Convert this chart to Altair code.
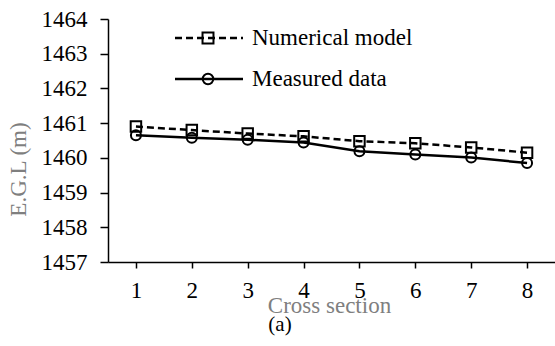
import altair as alt
import pandas as pd

# Energy grade line at each cross section
sections = [1, 2, 3, 4, 5, 6, 7, 8]
numerical = [1460.90, 1460.80, 1460.70, 1460.62, 1460.48, 1460.42, 1460.30, 1460.15]
measured = [1460.65, 1460.58, 1460.52, 1460.44, 1460.19, 1460.10, 1460.01, 1459.85]
y_ticks = [1457, 1458, 1459, 1460, 1461, 1462, 1463, 1464]

FONT = "Liberation Serif"
FS = 23
W, H = 447, 243

num_df = pd.DataFrame({"cs": sections, "egl": numerical})
mea_df = pd.DataFrame({"cs": sections, "egl": measured})
one = pd.DataFrame({"k": [0]})

x_enc = alt.X(
    "cs:O",
    scale=alt.Scale(type="point", padding=0.5),
    axis=alt.Axis(
        title="Cross section",
        labelAngle=0,
        labelFont=FONT, labelFontSize=FS,
        labelPadding=11, labelBaseline="top",
        tickSize=6,
        titleX=221, titleY=50,
        titleAlign="center", titleBaseline="alphabetic",
    ),
)
y_enc = alt.Y(
    "egl:Q",
    scale=alt.Scale(domain=[1457, 1464], nice=False, zero=False),
    axis=alt.Axis(
        title="E.G.L (m)",
        values=y_ticks,
        format="d",
        labelFont=FONT, labelFontSize=FS,
        labelPadding=13,
        tickSize=8,
        titleX=-90, titleY=150,
        titleAngle=270, titleAlign="center", titleBaseline="middle",
    ),
)

mea_line = alt.Chart(mea_df).mark_line(color="black", strokeWidth=2.5).encode(x=x_enc, y=y_enc)
num_line = alt.Chart(num_df).mark_line(
    color="black", strokeWidth=2.5, strokeDash=[7, 4]
).encode(x=x_enc, y=y_enc)
mea_pts = alt.Chart(mea_df).mark_point(
    shape="circle", size=100, filled=False, color="black", strokeWidth=2, opacity=1
).encode(x=x_enc, y=y_enc)
num_pts = alt.Chart(num_df).mark_point(
    shape="square", size=110, filled=False, color="black", strokeWidth=2, opacity=1
).encode(x=x_enc, y=y_enc)

# Legend drawn in plot pixel space
leg_dash = alt.Chart(one).mark_rule(color="black", strokeWidth=2.5, strokeDash=[7, 4]).encode(
    x=alt.value(67), x2=alt.value(135), y=alt.value(19)
)
leg_sq = alt.Chart(one).mark_point(
    shape="square", size=120, filled=False, color="black", strokeWidth=2, opacity=1
).encode(x=alt.value(100), y=alt.value(19))
leg_num_txt = alt.Chart(one).mark_text(
    text="Numerical model", font=FONT, fontSize=FS, align="left", baseline="alphabetic", color="black"
).encode(x=alt.value(144), y=alt.value(25.5))

leg_solid = alt.Chart(one).mark_rule(color="black", strokeWidth=2.5).encode(
    x=alt.value(67), x2=alt.value(135), y=alt.value(60)
)
leg_ci = alt.Chart(one).mark_point(
    shape="circle", size=110, filled=False, color="black", strokeWidth=2, opacity=1
).encode(x=alt.value(100), y=alt.value(60))
leg_mea_txt = alt.Chart(one).mark_text(
    text="Measured data", font=FONT, fontSize=FS, align="left", baseline="alphabetic", color="black"
).encode(x=alt.value(144), y=alt.value(67))

caption = alt.Chart(one).mark_text(
    text="(a)", font=FONT, fontSize=FS - 2, align="center", baseline="alphabetic", color="black"
).encode(x=alt.value(172), y=alt.value(312))

chart = alt.layer(
    mea_line, num_line, mea_pts, num_pts,
    leg_dash, leg_sq, leg_num_txt, leg_solid, leg_ci, leg_mea_txt, caption,
).properties(
    width=W, height=H,
    background="white",
    autosize=alt.AutoSizeParams(type="none"),
    padding={"left": 108, "top": 19, "right": 0, "bottom": 84},
).configure_view(
    stroke=None
).configure_axis(
    labelFont=FONT, labelFontSize=FS, labelColor="black", labelOverlap=False,
    labelFlush=False, labelBound=False,
    tickColor="black", tickWidth=1.5,
    domainColor="black", domainWidth=1.5,
    titleFont=FONT, titleFontSize=FS, titleFontWeight="normal", titleColor="#7f7f7f",
    grid=False,
)

chart.save("out.html", embed_options={"renderer": "svg", "actions": False})
